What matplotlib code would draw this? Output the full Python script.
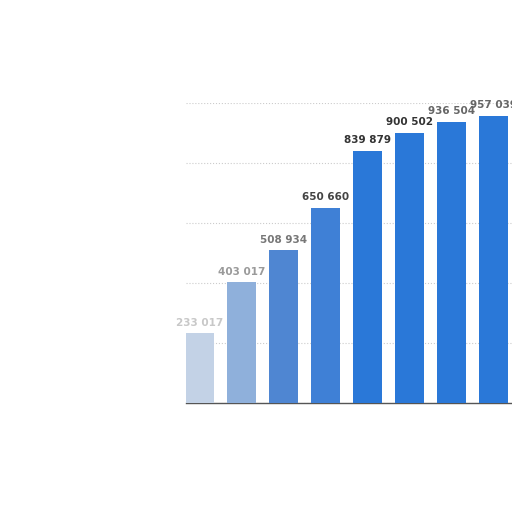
import matplotlib.pyplot as plt
import numpy as np

values = [233017, 403017, 508934, 650660, 839879, 900502, 936504, 957039]
labels = ['233 017', '403 017', '508 934', '650 660', '839 879', '900 502', '936 504', '957 039']
bar_colors = ['#c3d2e6', '#8fb0db', '#4f86d2', '#3f80d6',
              '#2a78d8', '#2a78d8', '#2a78d8', '#2a78d8']
label_colors = ['#c8c8c8', '#9a9a9a', '#777777', '#444444',
                '#333333', '#333333', '#666666', '#666666']

fig = plt.figure(figsize=(5.12, 5.12), dpi=100)
# plot area: left edge at ~186 px, baseline at ~403 px, 1M at ~103 px
ax = fig.add_axes([186 / 512, 109 / 512, 326 / 512, 300 / 512])

x = np.arange(len(values))
ax.bar(x, values, width=0.69, color=bar_colors, zorder=3)

for xi, v, lab, c in zip(x, values, labels, label_colors):
    ax.annotate(lab, (xi, v), xytext=(0, 4), textcoords='offset points',
                ha='center', va='bottom', fontsize=7.5, fontweight='semibold',
                color=c, clip_on=False)

ax.set_xlim(-0.333, 7.43)
ax.set_ylim(0, 1_000_000)
ax.set_yticks(np.arange(0, 1_000_001, 200_000))
ax.yaxis.grid(True, linestyle=':', color='#cccccc', linewidth=0.8, zorder=0)
ax.tick_params(left=False, bottom=False, labelleft=False, labelbottom=False)
for side in ['top', 'right', 'left']:
    ax.spines[side].set_visible(False)
ax.spines['bottom'].set_color('#555555')
ax.spines['bottom'].set_linewidth(1.0)

plt.savefig('out.png', dpi=100)
